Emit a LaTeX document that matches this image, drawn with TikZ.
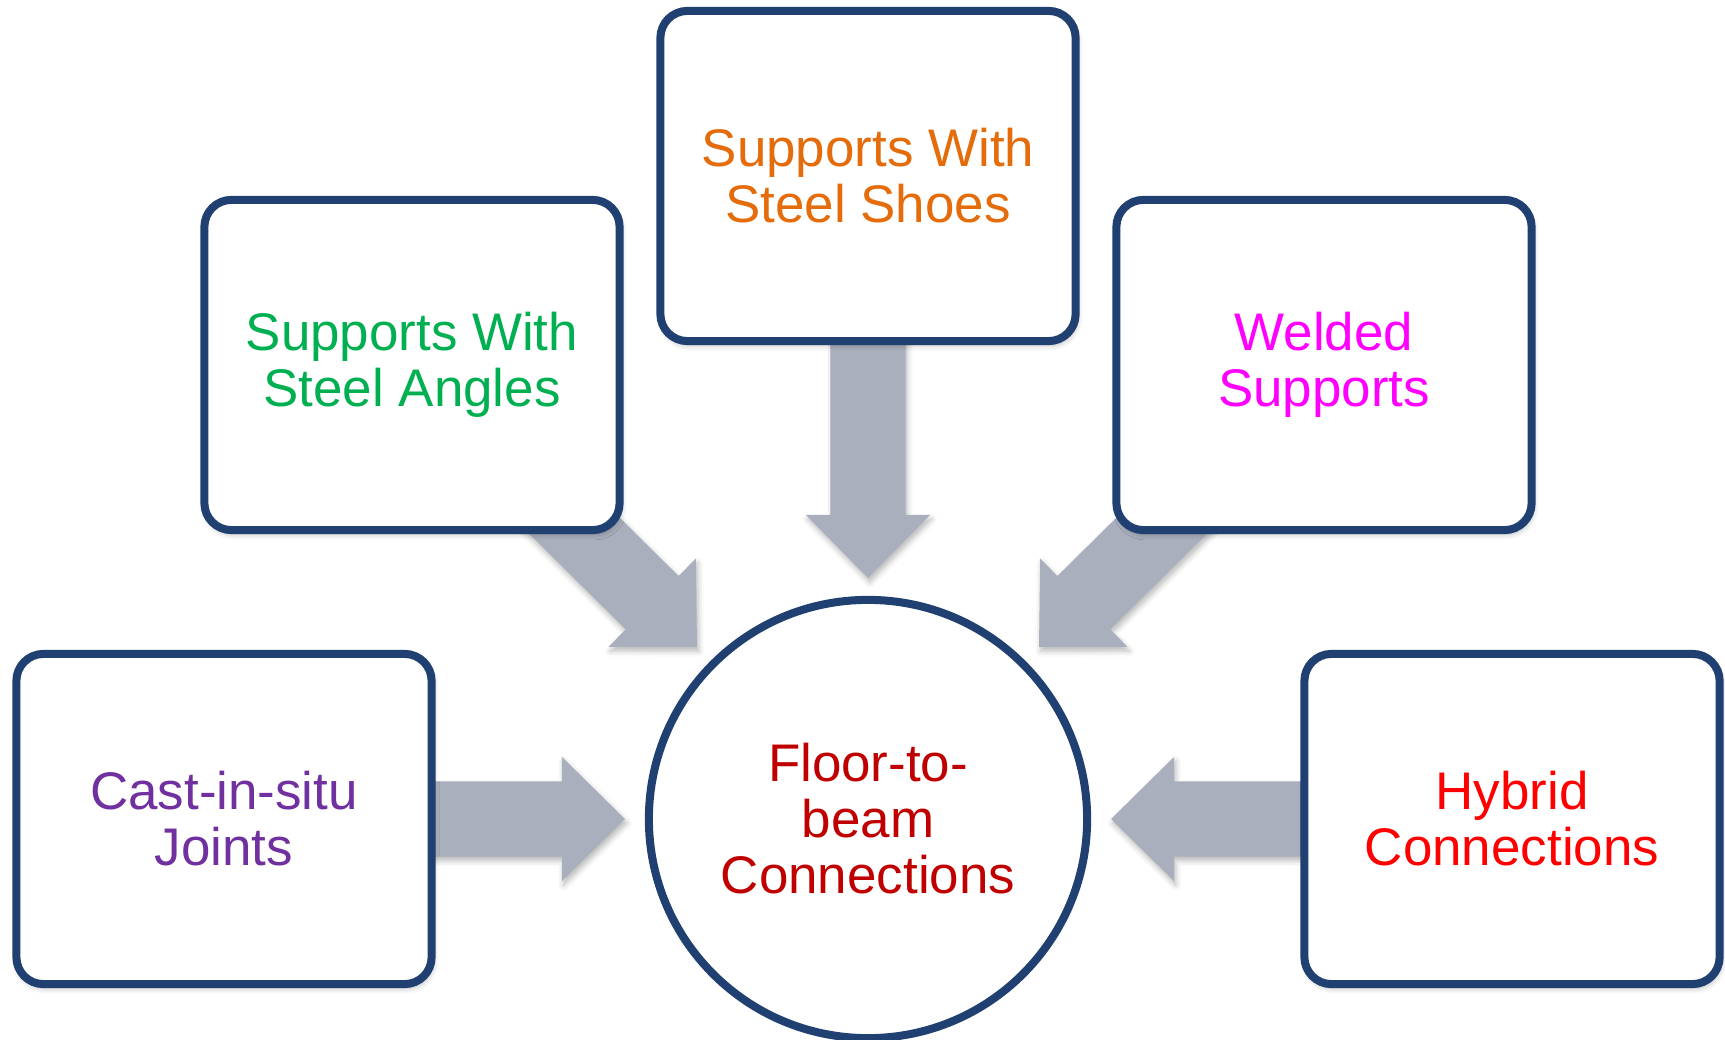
\documentclass[tikz,border=0pt]{standalone}
\usepackage{fontspec}
\setmainfont{Liberation Sans}
\usetikzlibrary{calc,shadows.blur}
\definecolor{frame}{HTML}{1F4071}
\definecolor{arrowgray}{HTML}{A9AFBC}
\definecolor{cOrange}{HTML}{E46C0A}
\definecolor{cGreen}{HTML}{00B050}
\definecolor{cMagenta}{HTML}{FF00FF}
\definecolor{cPurple}{HTML}{7030A0}
\definecolor{cRed}{HTML}{FF0000}
\definecolor{cDarkRed}{HTML}{C00000}
\pgfdeclarelayer{back}
\pgfsetlayers{back,main}
\newcommand\blockarrow[2]{% #1 tail node, #2 tip coordinate
  \fill[barrow] (#2)
    -- ($(#2)!0.63cm!(#1.center)!0.62cm!90:(#2)$)
    -- ($(#2)!0.63cm!(#1.center)!0.375cm!90:(#2)$)
    -- ($(#1.center)!0.375cm!90:(#2)$)
    -- ($(#1.center)!0.375cm!-90:(#2)$)
    -- ($(#2)!0.63cm!(#1.center)!0.375cm!-90:(#2)$)
    -- ($(#2)!0.63cm!(#1.center)!0.62cm!-90:(#2)$)
    -- cycle;}
\begin{document}
\begin{tikzpicture}[x=0.01cm,y=-0.01cm,
  softshadow/.style={blur shadow={shadow xshift=0.5pt, shadow yshift=-1.2pt, shadow blur radius=1.6pt, shadow opacity=28}},
  box/.style={draw=frame, line width=2.28pt, fill=white, rounded corners=0.27cm,
    minimum width=4.15cm, minimum height=3.3cm, align=center, inner sep=0pt,
    font=\fontsize{15.05}{15.93}\selectfont, softshadow},
  hub/.style={circle, draw=frame, line width=2.28pt, fill=white, minimum size=4.38cm,
    inner sep=0pt, align=center, font=\fontsize{15.05}{15.93}\selectfont},
  barrow/.style={fill=arrowgray, softshadow}]
\useasboundingbox (0,0) rectangle (1725,1040);

\node[box, text=cOrange] (top) at (868,176) {Supports With\\Steel Shoes};
\node[box, text=cGreen] (ul) at (412,365) {Supports With\\Steel Angles};
\node[box, text=cMagenta] (ur) at (1324,365) {Welded\\Supports};
\node[box, text=cPurple] (ll) at (224,819) {Cast-in-situ\\Joints};
\node[box, text=cRed] (lr) at (1512,819) {Hybrid\\Connections};
\node[hub, text=cDarkRed] (hub) at (868,819) {Floor-to-\\beam\\Connections};

\coordinate (tD) at (868,578);
\coordinate (tL) at (625,819);
\coordinate (tR) at (1111,819);
\coordinate (tUL) at (697,647);
\coordinate (tUR) at (1039,647);

\begin{pgfonlayer}{back}
\blockarrow{top}{tD}
\blockarrow{ll}{tL}
\blockarrow{lr}{tR}
\blockarrow{ul}{tUL}
\blockarrow{ur}{tUR}
\end{pgfonlayer}
\end{tikzpicture}
\end{document}
